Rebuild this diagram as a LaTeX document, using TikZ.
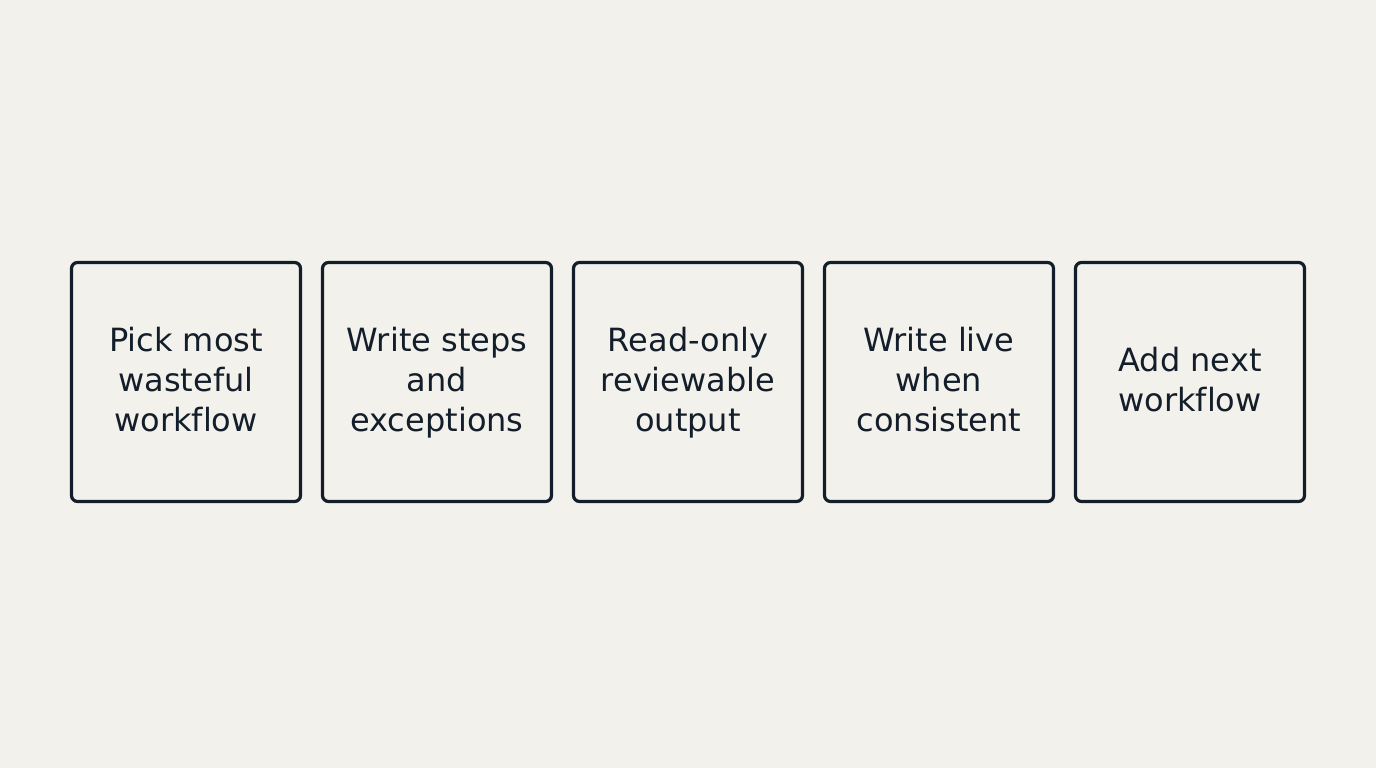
\documentclass[tikz,border=0pt]{standalone}
\usepackage{fontspec}
\setmainfont{DejaVu Sans}[Ligatures=NoCommon]
\definecolor{bg}{HTML}{F3F1EC}
\definecolor{ink}{HTML}{131E2A}
\begin{document}
\begin{tikzpicture}[x=1pt,y=1pt,
  stepbox/.style={draw=ink, line width=3.2pt, rounded corners=6pt, minimum width=229pt, minimum height=239pt, inner sep=0pt,
    text=ink, align=center, font=\fontsize{32pt}{40pt}\selectfont}]
\fill[bg] (0,0) rectangle (1376,768);
\useasboundingbox (0,0) rectangle (1376,768);
\node[stepbox] (s1) at (186,386) {};
\node[stepbox] (s2) at (437,386) {};
\node[stepbox] (s3) at (688,386) {};
\node[stepbox] (s4) at (939,386) {};
\node[stepbox] (s5) at (1190,386) {};
\tikzset{lbl/.style={text=ink, align=center, inner sep=0pt, font=\fontsize{32pt}{40pt}\selectfont}}
\node[lbl] (t1) at ([yshift=-2pt]s1.center) {\strut Pick most\\wasteful\\workflow\strut};
\node[lbl] (t2) at ([yshift=-2pt]s2.center) {\strut Write steps\\and\\exceptions\strut};
\node[lbl] (t3) at ([yshift=-2pt]s3.center) {\strut Read-only\\reviewable\\output\strut};
\node[lbl] (t4) at ([yshift=-2pt]s4.center) {\strut Write live\\when\\consistent\strut};
\node[lbl] (t5) at ([yshift=-2pt]s5.center) {\strut Add next\\workflow\strut};
\end{tikzpicture}
\end{document}
